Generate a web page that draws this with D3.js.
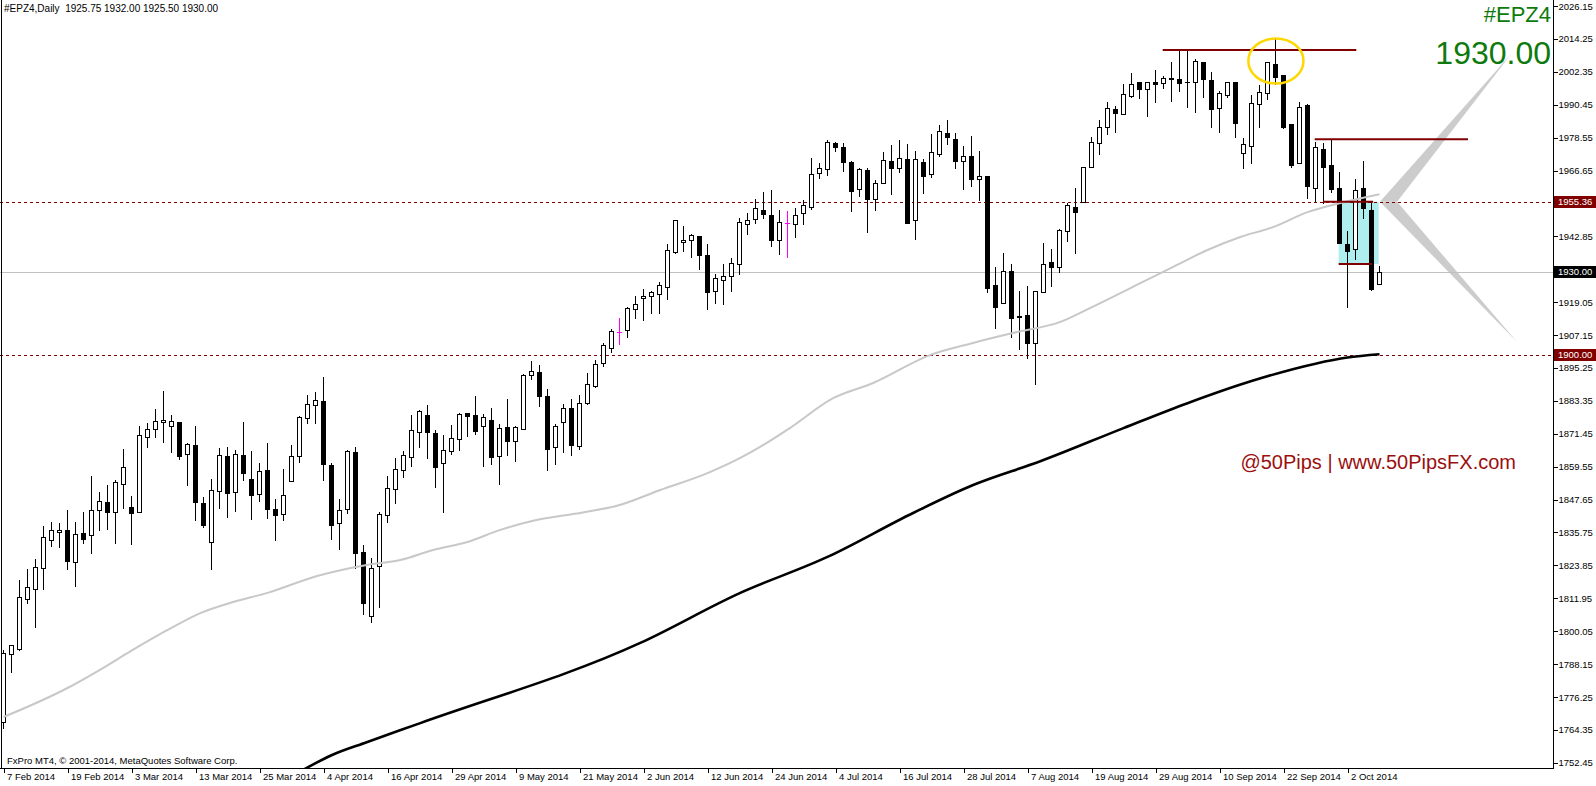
<!DOCTYPE html>
<meta charset="utf-8">
<style>
body { margin: 0; background: #fff; }
svg { display: block; font-family: "Liberation Sans", Arial, sans-serif; }
.axis text { font-size: 9.5px; fill: #000; }
.axis line { stroke: #000; shape-rendering: crispEdges; }
</style>
<svg width="1596" height="786"></svg>
<script src="https://d3js.org/d3.v7.min.js"></script>
<script>

// daily bars, 7 Feb 2014 .. 8 Oct 2014 (bar index 0..172)
var opens = [
  1767.2,1791.8,1793.6,1811.8,1815.4,1822.8,1832.9,1835.8,1836.5,1824.9,
  1835.4,1834.7,1843.8,1846.8,1843.0,1853.1,1844.9,1843.0,1870.2,1873.1,
  1875.6,1874.2,1875.6,1864.0,1867.3,1846.4,1832.4,1850.9,1863.3,1850.5,
  1863.6,1855.1,1849.6,1858.3,1844.1,1842.3,1854.4,1863.4,1877.0,1881.7,
  1883.3,1860.0,1839.0,1844.1,1864.8,1828.6,1805.5,1823.6,1841.9,1851.4,
  1858.2,1863.1,1872.0,1878.2,1871.6,1860.8,1865.2,1869.4,1878.8,1878.1,
  1874.3,1876.4,1863.3,1873.8,1868.9,1873.1,1892.6,1893.7,1885.1,1866.5,
  1875.6,1880.6,1867.1,1882.7,1888.9,1897.1,1902.4,1908.3,1908.9,1916.4,
  1920.4,1921.2,1921.9,1924.6,1937.3,1940.7,1941.4,1942.9,1936.0,1922.9,
  1926.9,1928.4,1932.7,1947.2,1949.1,1952.4,1950.4,1941.4,1947.6,1947.2,
  1951.2,1953.6,1965.6,1967.1,1976.5,1975.1,1969.6,1959.9,1966.7,1956.4,
  1962.0,1970.1,1967.4,1970.7,1948.6,1969.7,1965.3,1972.5,1980.1,1977.9,
  1970.0,1971.8,1963.7,1964.6,1925.1,1918.6,1930.2,1914.0,1914.3,1904.2,
  1922.6,1933.4,1931.6,1944.6,1953.6,1955.1,1967.9,1976.5,1982.3,1988.8,
  1987.0,1993.7,1998.6,1996.0,1998.6,1998.2,2000.0,1999.6,1998.8,1998.6,
  2005.8,1999.3,1989.2,1994.0,1998.6,1972.9,1975.6,1990.6,1994.6,2005.2,
  2001.2,1983.4,1969.5,1990.2,1960.2,1974.4,1968.6,1960.2,1940.1,1938.2,
  1960.2,1952.4,1925.75
];
var highs = [
  1793.2,1795.1,1818.6,1822.4,1826.1,1838.2,1839.5,1839.0,1843.9,1839.5,
  1843.2,1856.1,1850.5,1852.9,1854.7,1865.9,1848.8,1874.2,1875.2,1880.4,
  1886.9,1878.2,1875.8,1868.0,1874.2,1848.7,1855.1,1866.2,1866.5,1865.6,
  1875.7,1865.2,1860.8,1868.0,1847.7,1858.7,1867.4,1877.8,1885.4,1886.6,
  1892.1,1860.8,1847.8,1865.6,1866.8,1831.2,1826.5,1843.2,1856.1,1862.8,
  1865.2,1878.2,1880.0,1881.8,1872.8,1871.0,1874.6,1879.1,1879.1,1885.1,
  1878.6,1880.6,1874.9,1884.0,1874.2,1893.0,1897.8,1896.3,1887.5,1874.9,
  1882.2,1884.0,1885.4,1893.5,1898.1,1904.1,1909.2,1913.2,1917.4,1921.3,
  1923.9,1923.1,1926.3,1940.1,1948.8,1946.6,1943.6,1943.0,1940.0,1929.2,
  1932.8,1935.1,1949.5,1951.2,1956.2,1958.8,1959.6,1952.2,1952.0,1953.2,
  1956.0,1971.1,1969.3,1977.7,1976.9,1976.7,1970.1,1967.4,1967.4,1963.2,
  1973.3,1975.9,1977.6,1976.2,1973.7,1970.7,1980.0,1983.1,1985.1,1980.1,
  1975.5,1979.2,1973.7,1964.6,1931.9,1936.7,1932.7,1923.1,1924.9,1922.9,
  1940.3,1938.1,1945.5,1954.8,1960.2,1968.0,1978.9,1985.1,1991.5,1990.0,
  1997.8,2002.0,1998.8,1998.6,2002.9,2000.8,2005.8,2010.0,2010.2,2006.9,
  2005.8,2002.2,1995.4,1998.6,1998.6,1978.5,1994.0,1997.6,2005.8,2014.1,
  2001.2,1983.4,1991.5,1990.7,1977.1,1976.5,1977.7,1966.0,1944.8,1963.6,
  1970.2,1955.4,1932.00
];
var lows = [
  1765.0,1785.3,1793.2,1810.3,1801.4,1815.2,1830.9,1830.6,1822.5,1816.5,
  1831.8,1828.4,1836.6,1837.0,1832.0,1844.5,1831.4,1843.0,1866.8,1870.4,
  1868.6,1865.0,1862.2,1852.9,1840.3,1837.8,1822.5,1844.7,1841.2,1843.6,
  1854.7,1840.8,1847.2,1841.1,1833.0,1840.4,1854.4,1861.3,1875.2,1875.2,
  1854.7,1833.4,1829.7,1842.9,1822.8,1806.2,1803.5,1808.7,1839.6,1846.3,
  1855.9,1859.8,1866.8,1862.8,1852.3,1843.2,1864.0,1865.6,1870.7,1871.3,
  1859.9,1860.6,1853.4,1863.8,1861.7,1873.1,1891.1,1881.5,1858.3,1860.5,
  1865.0,1863.8,1865.8,1882.1,1888.5,1896.1,1901.1,1903.9,1906.6,1913.2,
  1912.6,1915.2,1915.2,1920.2,1936.9,1937.7,1935.2,1930.9,1916.7,1918.6,
  1918.3,1923.1,1929.1,1943.6,1947.8,1949.6,1939.4,1936.6,1935.5,1942.5,
  1947.3,1952.9,1964.1,1965.2,1973.8,1966.6,1952.1,1957.5,1944.5,1952.4,
  1962.0,1958.3,1966.2,1947.8,1941.8,1958.6,1964.4,1972.0,1976.1,1967.7,
  1960.1,1961.1,1956.0,1922.8,1909.8,1918.6,1906.6,1902.2,1898.9,1889.5,
  1922.6,1925.0,1930.0,1941.3,1936.7,1955.1,1967.9,1972.5,1979.8,1980.7,
  1987.0,1993.3,1992.8,1986.5,1991.5,1996.4,1991.9,1995.4,1989.7,1987.7,
  1993.3,1982.5,1980.7,1993.3,1978.9,1967.5,1969.3,1982.5,1992.4,1997.9,
  1981.9,1968.0,1969.3,1956.8,1955.7,1955.0,1959.0,1940.3,1917.4,1934.6,
  1949.6,1923.4,1925.50
];
var closes = [
  1792.2,1795.1,1812.4,1815.9,1823.4,1834.0,1836.5,1836.5,1825.5,1835.1,
  1833.3,1843.8,1847.0,1843.3,1853.9,1859.3,1842.9,1870.9,1873.1,1875.9,
  1876.3,1875.9,1863.5,1867.7,1846.9,1838.4,1851.0,1863.6,1850.1,1864.0,
  1857.4,1849.4,1857.9,1844.3,1842.2,1849.2,1863.3,1877.4,1882.1,1883.5,
  1860.6,1838.5,1843.8,1865.2,1828.2,1810.3,1823.0,1842.3,1851.7,1858.6,
  1863.6,1872.8,1879.7,1872.2,1859.3,1865.4,1869.8,1878.5,1878.0,1872.5,
  1877.4,1863.1,1873.4,1868.9,1873.8,1892.6,1894.0,1885.2,1866.0,1874.2,
  1880.6,1867.4,1882.5,1889.3,1896.6,1903.4,1908.7,1908.3,1916.8,1918.2,
  1921.3,1922.6,1925.1,1937.8,1948.8,1941.4,1943.2,1936.0,1922.8,1927.7,
  1928.4,1933.1,1947.9,1948.6,1953.0,1950.8,1941.4,1947.9,1947.6,1950.4,
  1954.1,1965.3,1967.4,1976.9,1975.1,1969.9,1959.4,1967.2,1956.5,1962.0,
  1970.3,1967.7,1971.1,1947.8,1970.7,1964.8,1973.2,1980.8,1978.6,1970.2,
  1971.8,1963.5,1964.6,1924.3,1917.4,1930.2,1913.4,1913.6,1904.4,1922.9,
  1932.8,1931.6,1945.0,1954.1,1951.5,1968.0,1976.9,1982.5,1989.2,1987.4,
  1994.2,1997.8,1996.0,1998.6,1997.9,2000.2,1999.6,1998.2,1998.6,2006.3,
  1999.9,1988.8,1994.6,1998.6,1983.7,1976.1,1990.9,1994.9,2005.8,2000.6,
  1982.5,1968.6,1989.7,1961.2,1975.1,1968.0,1960.0,1940.3,1937.6,1959.6,
  1953.0,1923.8,1930.00
];

// moving averages at sample bars
var maFastBars = [0,8,12,16,20.4,24.6,28.7,33,39.2,45.4,49.6,53.7,58,62,66.2,72.4,76.7,82.1,88,92.1,95,98.3,103.7,108.7,115.8,121.2,126.2,132.1,135.8,142.1,146.2,150.5,154.6,158.7,163,167.1,172];
var maFastVals = [1769.0,1779.5,1786.0,1793.0,1800.3,1806.6,1810.6,1813.9,1820.0,1824.0,1825.8,1829.4,1832.3,1836.6,1840.0,1843.0,1845.4,1851.1,1857.2,1862.7,1867.4,1873.5,1884.3,1889.8,1899.9,1904.3,1907.9,1911.9,1916.9,1925.9,1931.8,1937.9,1942.6,1946.2,1951.6,1954.9,1958.1];
var maSlowBars = [37.4,41,45.4,52.1,79.6,92.1,103,113.7,121.2,129.6,140,148,156,164,168,172];
var maSlowVals = [1749.8,1755.2,1759.9,1766.8,1795.8,1813.9,1826.9,1842.8,1852.9,1861.5,1873.5,1882.5,1890.5,1896.8,1899.0,1900.2];

var priceTicks = [2026.15,2014.25,2002.35,1990.45,1978.55,1966.65,1942.85,1919.05,1907.15,1895.25,1883.35,1871.45,1859.55,1847.65,1835.75,1823.85,1811.95,1800.05,1788.15,1776.25,1764.35,1752.45];
var tickLabels = ["7 Feb 2014","19 Feb 2014","3 Mar 2014","13 Mar 2014","25 Mar 2014","4 Apr 2014","16 Apr 2014","29 Apr 2014","9 May 2014","21 May 2014","2 Jun 2014","12 Jun 2014","24 Jun 2014","4 Jul 2014","16 Jul 2014","28 Jul 2014","7 Aug 2014","19 Aug 2014","29 Aug 2014","10 Sep 2014","22 Sep 2014","2 Oct 2014"];
var tickEvery = 8;

// levels and drawn objects (bar index, price)
var dashLevels = [1955.36, 1900.00];
var bidPrice = 1930.00;
var trendLines = [[144.9, 169.1, 2010.2], [163.9, 183.06, 1978.0], [164.94, 171.2, 1955.36], [166.9, 171.06, 1932.85]];
var boxBars = [166.9, 171.9], boxPrices = [1955.36, 1932.85];
var ellipseBars = [155.6, 162.5], ellipsePrices = [2014.4, 1998.1];
var wedgeUp = [[172.06, 1955.36], [174.2, 1955.36], [188.56, 2009.15]];
var wedgeDown = [[172.06, 1955.36], [174.2, 1955.36], [189.19, 1904.63]];

var svg = d3.select("svg"),
    plotRight = 1553,
    plotBottom = 768;

var x = d3.scaleLinear().domain([0, 172]).range([3.5, 1379.5]),
    y = d3.scaleLinear().domain([1752.45, 2026.15]).range([762.8, 6]);

svg.append("rect").attr("width", 1596).attr("height", 786).attr("fill", "#fff");

svg.append("clipPath").attr("id", "plot")
  .append("rect").attr("width", plotRight).attr("height", plotBottom);

var g = svg.append("g").attr("clip-path", "url(#plot)");

// background objects
g.append("rect")
    .attr("x", x(boxBars[0]))
    .attr("y", y(boxPrices[0]))
    .attr("width", x(boxBars[1]) - x(boxBars[0]))
    .attr("height", y(boxPrices[1]) - y(boxPrices[0]))
    .attr("fill", "#afeeee");

g.selectAll(".wedge")
  .data([wedgeUp, wedgeDown])
  .join("path")
    .attr("class", "wedge")
    .attr("d", function(d) { return "M" + d.map(function(p) { return x(p[0]) + "," + y(p[1]); }).join("L") + "Z"; })
    .attr("fill", "#cccccc");

g.selectAll(".level")
  .data(dashLevels)
  .join("line")
    .attr("class", "level")
    .attr("x1", 0).attr("x2", plotRight)
    .attr("y1", function(d) { return Math.round(y(d)) + 0.5; })
    .attr("y2", function(d) { return Math.round(y(d)) + 0.5; })
    .attr("stroke", "#800000")
    .attr("stroke-dasharray", "3,3")
    .attr("shape-rendering", "crispEdges");

g.append("line")
    .attr("x1", 0).attr("x2", plotRight)
    .attr("y1", Math.round(y(bidPrice)) + 0.5)
    .attr("y2", Math.round(y(bidPrice)) + 0.5)
    .attr("stroke", "#c0c0c0")
    .attr("shape-rendering", "crispEdges");

// candles
var bars = opens.map(function(o, i) {
  return {i: i, o: o, h: highs[i], l: lows[i], c: closes[i]};
});

var cg = g.append("g").attr("shape-rendering", "crispEdges");

cg.selectAll(".wick")
  .data(bars)
  .join("line")
    .attr("class", "wick")
    .attr("x1", function(d) { return x(d.i); })
    .attr("x2", function(d) { return x(d.i); })
    .attr("y1", function(d) { return Math.round(y(d.h)); })
    .attr("y2", function(d) { return Math.round(y(d.l)) + 1; })
    .attr("stroke", function(d) { return d.o === d.c ? "#ff00ff" : "#000"; });

function flat(d) { return Math.abs(Math.round(y(d.o)) - Math.round(y(d.c))) < 1; }

cg.selectAll(".body")
  .data(bars.filter(function(d) { return !flat(d); }))
  .join("rect")
    .attr("class", "body")
    .attr("x", function(d) { return x(d.i) - 2; })
    .attr("y", function(d) { return Math.round(y(Math.max(d.o, d.c))) + 0.5; })
    .attr("width", 4)
    .attr("height", function(d) { return Math.round(y(Math.min(d.o, d.c))) - Math.round(y(Math.max(d.o, d.c))); })
    .attr("fill", function(d) { return d.c > d.o ? "#fff" : "#000"; })
    .attr("stroke", "#000");

cg.selectAll(".doji")
  .data(bars.filter(flat))
  .join("line")
    .attr("class", "doji")
    .attr("x1", function(d) { return x(d.i) - 2.5; })
    .attr("x2", function(d) { return x(d.i) + 2.5; })
    .attr("y1", function(d) { return Math.round(y(d.c)) + 0.5; })
    .attr("y2", function(d) { return Math.round(y(d.c)) + 0.5; })
    .attr("stroke", function(d) { return d.o === d.c ? "#ff00ff" : "#000"; });

// moving averages
var maLine = d3.line()
    .x(function(d) { return x(d[0]); })
    .y(function(d) { return y(d[1]); })
    .curve(d3.curveMonotoneX);

g.append("path")
    .attr("d", maLine(d3.zip(maFastBars, maFastVals)))
    .attr("fill", "none")
    .attr("stroke", "#c8c8c8")
    .attr("stroke-width", 2);

g.append("path")
    .attr("d", maLine(d3.zip(maSlowBars, maSlowVals)))
    .attr("fill", "none")
    .attr("stroke", "#000")
    .attr("stroke-width", 2.6);

// drawn lines and ellipse
g.selectAll(".trend")
  .data(trendLines)
  .join("line")
    .attr("class", "trend")
    .attr("x1", function(d) { return x(d[0]); })
    .attr("x2", function(d) { return x(d[1]); })
    .attr("y1", function(d) { return y(d[2]); })
    .attr("y2", function(d) { return y(d[2]); })
    .attr("stroke", "#800000")
    .attr("stroke-width", 2);

g.append("ellipse")
    .attr("cx", (x(ellipseBars[0]) + x(ellipseBars[1])) / 2)
    .attr("cy", (y(ellipsePrices[0]) + y(ellipsePrices[1])) / 2)
    .attr("rx", (x(ellipseBars[1]) - x(ellipseBars[0])) / 2)
    .attr("ry", (y(ellipsePrices[1]) - y(ellipsePrices[0])) / 2)
    .attr("fill", "none")
    .attr("stroke", "#ffd700")
    .attr("stroke-width", 2.5);

// texts
svg.append("text")
    .attr("x", 4).attr("y", 12)
    .attr("font-size", "10px")
    .style("white-space", "pre")
    .text("#EPZ4,Daily  1925.75 1932.00 1925.50 1930.00");

svg.append("text")
    .attr("x", 1551).attr("y", 22)
    .attr("text-anchor", "end")
    .attr("font-size", "22px")
    .attr("fill", "#0e7a0e")
    .text("#EPZ4");

svg.append("text")
    .attr("x", 1551).attr("y", 64)
    .attr("text-anchor", "end")
    .attr("font-size", "32px")
    .attr("fill", "#0e7a0e")
    .text(d3.format(".2f")(bidPrice));

svg.append("text")
    .attr("x", 1516).attr("y", 469)
    .attr("text-anchor", "end")
    .attr("font-size", "20px")
    .attr("fill", "#9b0f0f")
    .text("@50Pips | www.50PipsFX.com");

svg.append("text")
    .attr("x", 7).attr("y", 764)
    .attr("font-size", "9.5px")
    .text("FxPro MT4, \u00a9 2001-2014, MetaQuotes Software Corp.");

// frame and axes
svg.append("line")
    .attr("x1", 1.5).attr("x2", 1.5).attr("y1", 0).attr("y2", plotBottom)
    .attr("stroke", "#000").attr("shape-rendering", "crispEdges");
svg.append("line")
    .attr("x1", plotRight + 0.5).attr("x2", plotRight + 0.5).attr("y1", 0).attr("y2", plotBottom + 1)
    .attr("stroke", "#000").attr("shape-rendering", "crispEdges");
svg.append("line")
    .attr("x1", 0).attr("x2", plotRight + 1).attr("y1", plotBottom + 0.5).attr("y2", plotBottom + 0.5)
    .attr("stroke", "#000").attr("shape-rendering", "crispEdges");

var yAxis = d3.axisRight(y)
    .tickValues(priceTicks)
    .tickFormat(d3.format(".2f"))
    .tickSize(4)
    .tickPadding(1);

svg.append("g")
    .attr("class", "axis")
    .attr("transform", "translate(" + (plotRight + 0.5) + ",0)")
    .call(yAxis)
    .call(function(a) { a.select(".domain").remove(); });

var marks = [dashLevels[0], bidPrice, dashLevels[1]];
var mg = svg.selectAll(".mark")
  .data(marks)
  .join("g")
    .attr("class", "mark")
    .attr("transform", function(d) { return "translate(" + (plotRight + 1) + "," + Math.round(y(d)) + ")"; });
mg.append("rect")
    .attr("x", 0).attr("y", -6)
    .attr("width", 43).attr("height", 12)
    .attr("fill", function(d) { return d === bidPrice ? "#000" : "#800000"; });
mg.append("text")
    .attr("x", 4).attr("dy", "0.34em")
    .attr("font-size", "9.5px")
    .attr("fill", "#fff")
    .text(d3.format(".2f"));

var xAxis = d3.axisBottom(x)
    .tickValues(tickLabels.map(function(d, i) { return i * tickEvery; }))
    .tickFormat(function(d, i) { return tickLabels[i]; })
    .tickSize(4)
    .tickPadding(1);

svg.append("g")
    .attr("class", "axis")
    .attr("transform", "translate(0," + (plotBottom + 0.5) + ")")
    .call(xAxis)
    .call(function(a) { a.select(".domain").remove(); })
    .selectAll("text")
    .attr("text-anchor", "start")
    .attr("x", 3);

</script>
